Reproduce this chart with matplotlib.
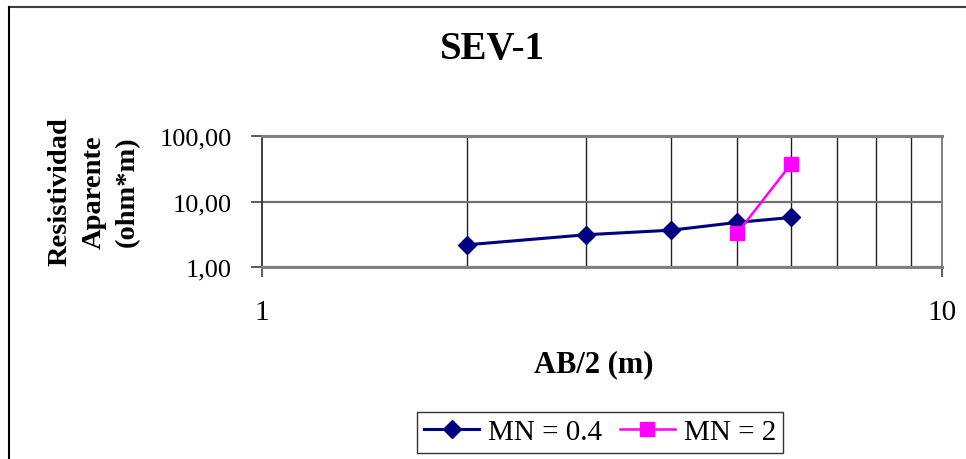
import matplotlib
matplotlib.use("Agg")
import matplotlib.pyplot as plt
from matplotlib.lines import Line2D
from matplotlib.ticker import FixedLocator, NullFormatter

# Data
ab2_04 = [2, 3, 4, 5, 6]
rho_04 = [2.18, 3.11, 3.65, 4.8, 5.7]
ab2_2 = [5, 6]
rho_2 = [3.3, 37.5]
xticks = [1, 10]
xtick_labels = ["1", "10"]
yticks = [1, 10, 100]
ytick_labels = ["1,00", "10,00", "100,00"]

plt.rcParams['font.family'] = ['Liberation Serif', 'DejaVu Serif']

fig = plt.figure(figsize=(9.66, 4.6), dpi=100)
W, H = 966, 460
ax = fig.add_axes([262 / W, 1 - 268 / H, (942 - 262) / W, (268 - 137) / H])

ax.set_xscale('log')
ax.set_yscale('log')
ax.set_xlim(1, 10)
ax.set_ylim(1, 100)

# grid
ax.xaxis.set_minor_locator(FixedLocator([2, 3, 4, 5, 6, 7, 8, 9]))
ax.xaxis.set_minor_formatter(NullFormatter())
ax.yaxis.set_minor_locator(FixedLocator([]))
ax.grid(True, which='minor', axis='x', color='#202020', lw=1.0)
ax.grid(True, which='major', axis='y', color='#707070', lw=1.6)
ax.set_axisbelow(True)

ax.set_xticks(xticks)
ax.set_xticklabels(xtick_labels, fontsize=21)
ax.set_yticks(yticks)
ax.set_yticklabels(ytick_labels, fontsize=19)
ax.tick_params(axis='x', which='major', length=7, width=1.2, color='#404040', pad=16)
ax.tick_params(axis='x', which='minor', length=0)
ax.tick_params(axis='y', which='major', length=8, width=1.2, color='#404040', pad=14)

for s in ['top', 'bottom']:
    ax.spines[s].set_color('#808080')
    ax.spines[s].set_linewidth(2.2)
ax.spines['left'].set_color('#404040')
ax.spines['left'].set_linewidth(1.4)
ax.spines['right'].set_color('#808080')
ax.spines['right'].set_linewidth(1.4)

ax.plot(ab2_04, rho_04, color='#000080', lw=2.2, marker='D', ms=9,
        label='MN = 0.4', zorder=3)
ax.plot(ab2_2, rho_2, color='#FF00FF', lw=1.8, marker='s', ms=10,
        label='MN = 2', zorder=4)

fig.text(492 / W, 1 - 50 / H, 'SEV-1', fontsize=28, fontweight='bold',
         ha='center', va='center')
fig.text(594 / W, 1 - 365 / H, 'AB/2 (m)', fontsize=22, fontweight='bold',
         ha='center', va='center')
fig.text(94 / W, 1 - 192 / H, 'Resistividad\nAparente\n(ohm*m)', fontsize=20.5,
         fontweight='bold', ha='center', va='center', rotation=90,
         linespacing=1.45, multialignment='center')

leg = fig.legend(loc='center', bbox_to_anchor=(600 / W, 1 - 433 / H),
                 ncol=2, fontsize=21, frameon=True, fancybox=False,
                 edgecolor='black', handlelength=1.9, handletextpad=0.3,
                 columnspacing=0.6, borderpad=0.25, borderaxespad=0)
leg.get_frame().set_linewidth(1.0)

# outer chart border (top and left visible)
fig.add_artist(Line2D([9 / W, 1], [1 - 8 / H, 1 - 8 / H], color='#404040', lw=1.5))
fig.add_artist(Line2D([9 / W, 9 / W], [0, 1 - 8 / H], color='black', lw=1.5))

fig.savefig('out.png', dpi=100)
